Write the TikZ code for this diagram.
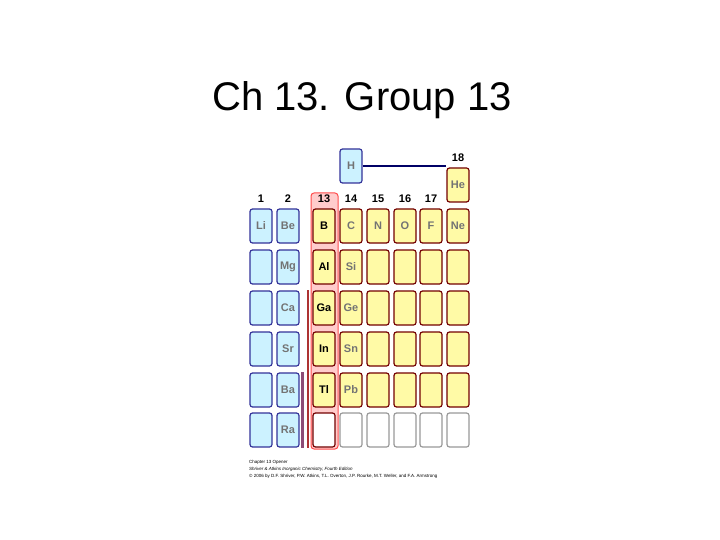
\documentclass[tikz,border=0pt]{standalone}
\usepackage{fontspec}
\setmainfont{Liberation Sans}
\begin{document}
\begin{tikzpicture}[x=1pt,y=-1pt,
  cellb/.style={draw=blue!50!black!80,fill=blue!25!cyan!20,line width=1.2pt,rounded corners=2.5pt,minimum width=22pt,minimum height=34pt,inner sep=0pt,font=\bfseries\fontsize{11}{11}\selectfont,text=black!55},
  celly/.style={cellb,draw=red!45!black,fill=yellow!35},
  cellg/.style={cellb,draw=black!40,fill=white},
  grp/.style={font=\bfseries\fontsize{11}{11}\selectfont},
  captext/.style={font=\fontsize{4.5}{5}\selectfont,anchor=west,inner sep=0pt}]
\useasboundingbox (0,0) rectangle (720,540);
\node (title) at (362,100) {\fontsize{40}{44}\selectfont Ch 13. Group 13};
% highlight
\fill[red!20,draw=red!70,rounded corners=3pt,line width=1pt] (311,193) rectangle (338,449);
\draw[red!60!black!80,line width=2.5pt] (308,290) -- (308,448);
\draw[blue!40!red!60!black!70,line width=3pt] (302,372) -- (302,448);
% H, He
\node[cellb] (H) at (351,166) {H};
\node[celly] (He) at (458,185) {He};
\draw[blue!40!black,line width=1.2pt] (H.east) -- (He.west|-H.east);
\node[grp] (g18) at (458,158) {18};
\foreach \lab/\x in {1/261,2/288,13/324,14/351,15/378,16/405,17/431}
  \node[grp] (g\lab) at (\x,199) {\lab};
% group 1,2
\foreach \y/\a/\b [count=\r] in {226/Li/Be,267//Mg,308//Ca,349//Sr,390//Ba,430//Ra}{
  \node[cellb] (c1r\r) at (261,\y) {\a};
  \node[cellb] (c2r\r) at (288,\y) {\b};}
% p-block
\foreach \y/\a/\b/\c/\d/\e/\f [count=\r] in {226/B/C/N/O/F/Ne,267/Al/Si////,308/Ga/Ge////,349/In/Sn////,390/Tl/Pb////}{
  \node[celly,text=black] (c13r\r) at (324,\y) {\a};
  \node[celly] (c14r\r) at (351,\y) {\b};
  \node[celly] (c15r\r) at (378,\y) {\c};
  \node[celly] (c16r\r) at (405,\y) {\d};
  \node[celly] (c17r\r) at (431,\y) {\e};
  \node[celly] (c18r\r) at (458,\y) {\f};}
\node[cellg,draw=red!45!black] (c13r6) at (324,430) {};
\foreach \x [count=\i] in {351,378,405,431,458} \node[cellg] (gr\i) at (\x,430) {};
\node[captext] (l1) at (249,462) {Chapter 13 Opener};
\node[captext] (l2) at (249,469) {\itshape Shriver \& Atkins Inorganic Chemistry, Fourth Edition};
\node[captext] (l3) at (249,476) {\textcopyright{} 2006 by D.F. Shriver, P.W. Atkins, T.L. Overton, J.P. Rourke, M.T. Weller, and F.A. Armstrong};
\end{tikzpicture}
\end{document}
